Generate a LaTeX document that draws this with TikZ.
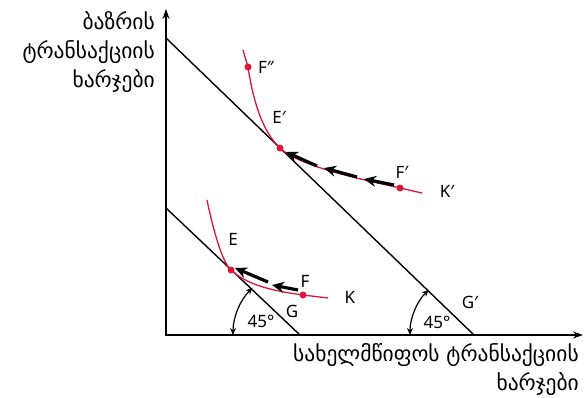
\documentclass[tikz,border=0pt]{standalone}
\usepackage{fontspec}
\setmainfont{Noto Sans}
\newfontfamily\geofont{DejaVu Sans}
\usetikzlibrary{arrows.meta}
\definecolor{curvered}{RGB}{222,22,58}

\begin{document}
\begin{tikzpicture}[
    x=1pt, y=-1pt,
    axis/.style={line width=1.8pt},
    budget/.style={line width=1.4pt},
    indiff/.style={line width=1.3pt, curvered},
    dot/.style={circle, fill=curvered, inner sep=0pt, minimum size=7pt},
    move/.style={line width=3.2pt, -{Stealth[length=12pt,width=11pt,inset=4pt]}},
    angarc/.style={line width=1.2pt, {Stealth[length=7pt,width=6pt]}-{Stealth[length=7pt,width=6pt]}},
    lbl/.style={font=\fontsize{17}{20}\selectfont, inner sep=0pt},
    axlabel/.style={font=\geofont\fontsize{21.5}{29}\selectfont, align=right, inner sep=0pt}
]
\useasboundingbox (0,0) rectangle (584,397);

% axes
\coordinate (O) at (166,335);
\coordinate (ytop) at (166,9);
\coordinate (xend) at (583,335);
\draw[axis, {Stealth[length=10pt,width=7pt]}-{Stealth[length=10pt,width=7pt]}] (ytop) -- (O) -- (xend);

\node[axlabel, anchor=north east] (ylab) at (155,11) {ბაზრის\\ტრანსაქციის\\ხარჯები};
\node[axlabel, anchor=north east] (xlab) at (579,343) {სახელმწიფოს ტრანსაქციის\\ხარჯები};

% budget lines
\coordinate (A1) at (166,38);
\coordinate (G1) at (474,335);
\coordinate (A0) at (166,208);
\coordinate (G0) at (300,335);
\draw[budget] (A1) -- (G1);
\draw[budget] (A0) -- (G0);

% points
\node[dot] (Fpp) at (248,67) {};
\node[dot] (Ep) at (280,148) {};
\node[dot] (Fp) at (400,188) {};
\node[dot] (E) at (231,270) {};
\node[dot] (F) at (303,295) {};
\coordinate (Kptop) at (243,50);
\coordinate (Kpend) at (422,193);
\coordinate (Ktop) at (207,200);
\coordinate (Kend) at (328,298);

% indifference curves
\draw[indiff] (Kptop) .. controls (245,58) .. (Fpp.center)
    .. controls (253,100) and (262,131) .. (Ep.center)
    .. controls (298,165) and (350,177) .. (Fp.center)
    .. controls (411,190.5) .. (Kpend);
\draw[indiff] (Ktop) .. controls (213,229) and (222,262) .. (E.center)
    .. controls (247,285) and (273,291) .. (F.center)
    .. controls (315,297) .. (Kend);

% movements along the curves
\coordinate (u1a) at (394,185); \coordinate (u1b) at (364,179);
\coordinate (u2a) at (357,177); \coordinate (u2b) at (324,168);
\coordinate (u3a) at (317,166); \coordinate (u3b) at (286,152);
\draw[move] (u1a) -- (u1b);
\draw[move] (u2a) -- (u2b);
\draw[move] (u3a) -- (u3b);
\coordinate (l1a) at (298,290); \coordinate (l1b) at (272,285);
\coordinate (l2a) at (268,282); \coordinate (l2b) at (235,268);
\draw[move] (l1a) -- (l1b);
\draw[move] (l2a) -- (l2b);

% 45 degree angles
\draw[angarc] ([shift={(225:67)}]G0) arc[start angle=225, end angle=180, radius=67];
\draw[angarc] ([shift={(225:64)}]G1) arc[start angle=225, end angle=180, radius=64];

% labels
\node[lbl] (lFpp) at (266,67) {F″};
\node[lbl] (lEp) at (279,117) {E′};
\node[lbl] (lFp) at (402,172) {F′};
\node[lbl] (lKp) at (447,191) {K′};
\node[lbl] (lE) at (233,239) {E};
\node[lbl] (lF) at (305,281) {F};
\node[lbl] (lK) at (350,297) {K};
\node[lbl] (lG) at (292,311) {G};
\node[lbl] (lGp) at (470,302) {G′};
\node[lbl] (a0) at (261,321) {45°};
\node[lbl] (a1) at (437,322) {45°};
\end{tikzpicture}
\end{document}
